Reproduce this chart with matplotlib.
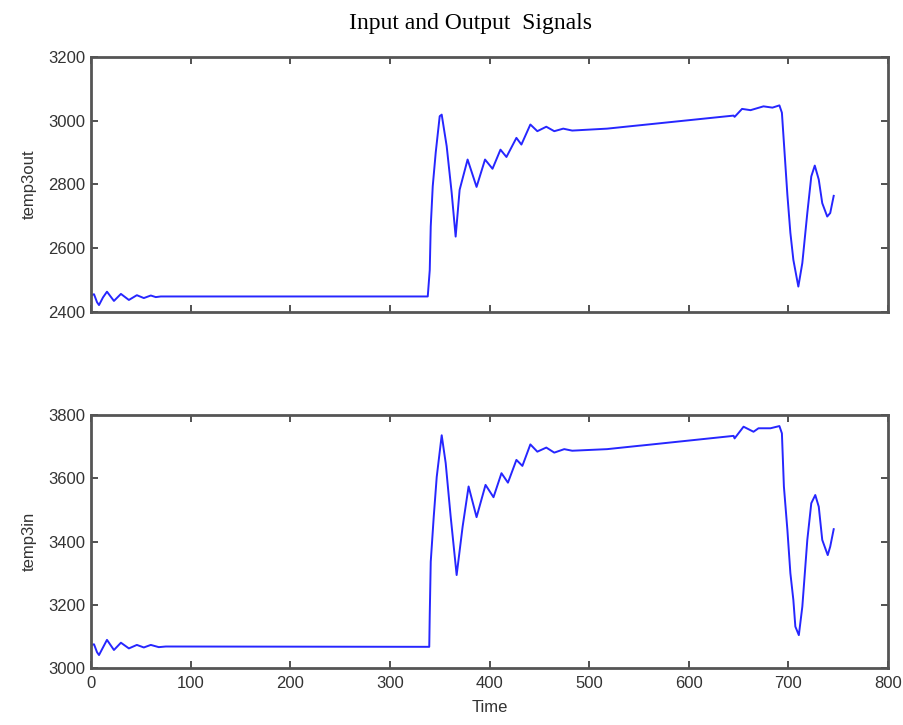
import numpy as np
import matplotlib
matplotlib.use("Agg")
import matplotlib.pyplot as plt

# output signal
t_out = [0, 3, 6, 8, 12, 16, 23, 30, 38, 46, 53, 60, 65, 70, 338,
         340, 341, 343, 346, 350, 352, 357, 362, 366, 370, 378, 387, 395.5,
         403, 411, 417, 427, 432, 441, 448, 457, 465, 474, 483, 518, 645,
         646, 653.5, 662, 675, 684, 691, 693.5, 699, 702, 705, 710, 714,
         719, 723, 726.5, 730.5, 734, 739, 742, 745.5]
temp3out = [2452, 2455, 2430, 2421, 2445, 2463, 2434, 2456, 2437, 2452, 2443, 2451, 2446, 2448, 2448,
            2531, 2668, 2794, 2900, 3014, 3019, 2920, 2774, 2636, 2783, 2878, 2792, 2878,
            2849, 2909, 2886, 2946, 2925, 2988, 2967, 2981, 2967, 2975, 2969, 2975, 3016,
            3012, 3037, 3033, 3045, 3041, 3048, 3025, 2767, 2648, 2563, 2479, 2553,
            2710, 2825, 2859, 2815, 2741, 2699, 2710, 2764]

# input signal
t_in = [0, 3, 6, 8, 12, 16, 23, 30, 38, 46, 53, 60, 68, 75, 339.5,
        340, 341, 344, 347, 352, 356, 361, 367, 373, 379, 387, 396,
        404, 412, 418.5, 427, 433, 441, 448, 457, 465, 475, 483, 518, 645,
        646, 655, 665, 670, 682, 691, 693.5, 695.5, 699, 702, 705, 707, 710.5,
        714, 719, 723, 727, 730.5, 734, 739.5, 742, 745.5]
temp3in = [3073, 3075, 3050, 3041, 3065, 3089, 3057, 3080, 3062, 3073, 3065, 3073, 3066, 3068, 3067,
           3168, 3336, 3478, 3604, 3736, 3648, 3479, 3294, 3447, 3574, 3477, 3579,
           3540, 3616, 3586, 3658, 3639, 3707, 3684, 3697, 3681, 3692, 3687, 3692, 3734,
           3726, 3763, 3747, 3758, 3758, 3765, 3742, 3574, 3437, 3300, 3215, 3131, 3104,
           3194, 3405, 3521, 3547, 3510, 3405, 3357, 3384, 3439]

plt.rcParams['font.family'] = ['Liberation Sans', 'DejaVu Sans']

fig = plt.figure(figsize=(9.04, 7.25), dpi=100)
ax1 = fig.add_axes([0.1007, 0.570, 0.8816, 0.3514])
ax2 = fig.add_axes([0.1007, 0.0786, 0.8816, 0.349])

panels = [(ax1, t_out, temp3out, (2400, 3200), "temp3out"),
          (ax2, t_in, temp3in, (3000, 3800), "temp3in")]
for ax, t, v, ylim, label in panels:
    ax.plot(t, v, color=(0.15, 0.15, 1.0), linewidth=1.4)
    ax.set_xlim(0, 800)
    ax.set_ylim(*ylim)
    ax.set_xticks(np.arange(0, 801, 100))
    ax.set_yticks(np.arange(ylim[0], ylim[1] + 1, 200))
    ax.tick_params(direction='in', top=True, right=True, length=5, pad=6,
                   width=1.2, color='#333333', labelsize=12, labelcolor='#333333')
    ax.tick_params(axis='y', pad=4)
    for s in ax.spines.values():
        s.set_linewidth(2.0)
        s.set_color('#555555')
    ax.set_ylabel(label, fontsize=12, color='#333333', labelpad=8)

ax1.tick_params(labelbottom=False)
ax2.set_xlabel("Time", fontsize=12, color='#333333', labelpad=6)

fig.text(0.52, 0.967, "Input and Output  Signals", ha='center', va='center',
         fontsize=17, family=['Liberation Serif', 'DejaVu Serif'])

fig.savefig("out.png", dpi=100)
